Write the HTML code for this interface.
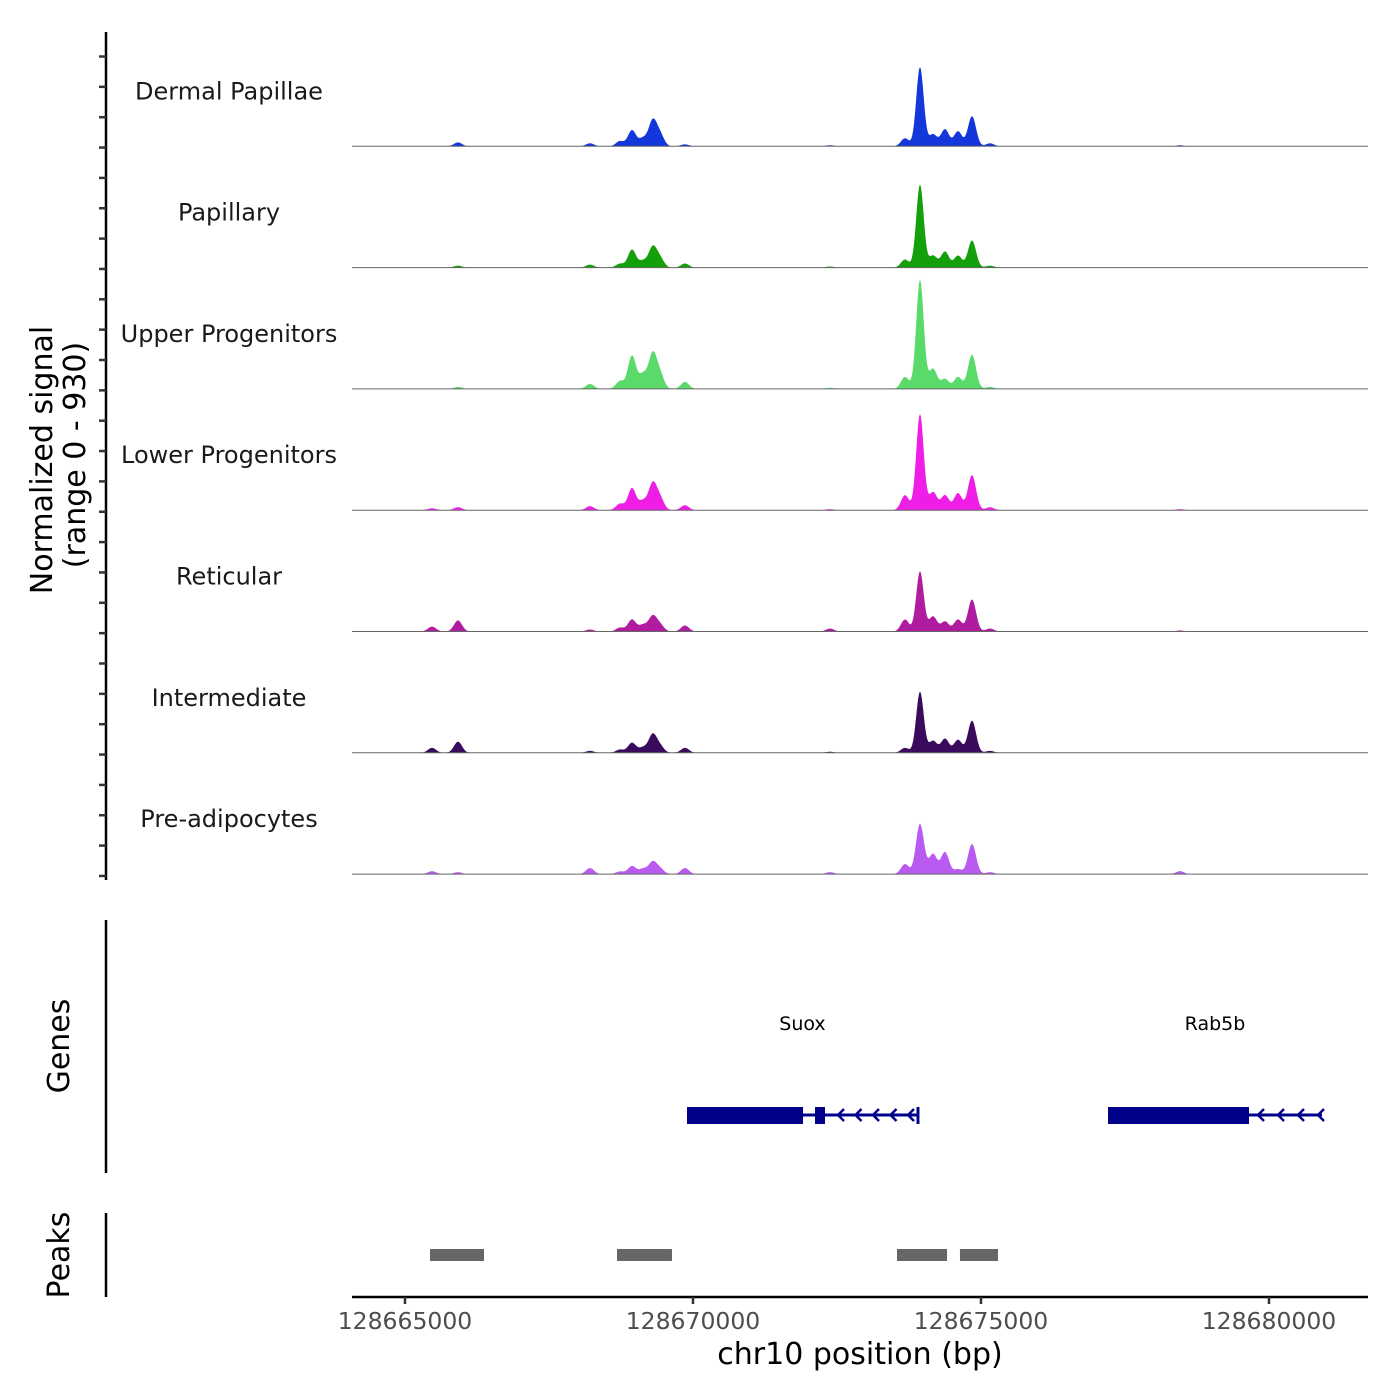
<!DOCTYPE html>
<html><head><meta charset="utf-8"><style>
html,body{margin:0;padding:0;background:#fff;}
svg{display:block;font-family:"DejaVu Sans","Liberation Sans",sans-serif;}
</style></head><body>
<svg id="chart" width="1400" height="1400" viewBox="0 0 1400 1400">
<g id="tracks"></g>
<line x1="106" y1="32" x2="106" y2="880" stroke="#000" stroke-width="2.5"/>
<g id="yticks"></g>
<text transform="translate(52,460) rotate(-90)" text-anchor="middle" font-size="30" fill="#000">Normalized signal</text>
<text transform="translate(85,455) rotate(-90)" text-anchor="middle" font-size="30" fill="#000">(range 0 - 930)</text>
<line x1="106" y1="920" x2="106" y2="1173" stroke="#000" stroke-width="2.5"/>
<text transform="translate(69,1046) rotate(-90)" text-anchor="middle" font-size="30" fill="#000">Genes</text>
<g id="genes"></g>
<line x1="106" y1="1213" x2="106" y2="1297" stroke="#000" stroke-width="2.5"/>
<text transform="translate(69,1255) rotate(-90)" text-anchor="middle" font-size="30" fill="#000">Peaks</text>
<g id="peaks"></g>
<line x1="352" y1="1297" x2="1368" y2="1297" stroke="#000" stroke-width="2.5"/>
<g id="xticks"></g>
<text x="860" y="1364" text-anchor="middle" font-size="30" fill="#000">chr10 position (bp)</text>
</svg>
<script>
const cellTypes = ["Dermal Papillae","Papillary","Upper Progenitors","Lower Progenitors","Reticular","Intermediate","Pre-adipocytes"];
const trackColors = ["#1437dc","#14a00a","#5ada6a","#ee1ee6","#b01ca0","#3a0a5c","#b95af0"];
const peakCenters = [128665469,128665920,128668212,128668733,128668941,128669132,128669300,128669427,128669861,128672378,128673681,128673941,128674167,128674375,128674601,128674844,128675156,128678455];
const sigDermal  = [0,30,23,40,123,60,192,90,15,8,62,608,92,131,115,231,23,8];
const sigPapill  = [0,15,23,30,138,50,154,70,31,8,62,638,92,123,92,208,15,0];
const sigUpper   = [0,15,38,60,254,110,262,110,54,8,92,838,154,77,92,262,15,0];
const sigLower   = [15,23,31,50,169,70,200,90,38,8,115,738,138,115,131,269,23,8];
const sigRetic   = [38,85,15,30,92,50,115,50,46,23,92,462,115,77,92,246,23,8];
const sigInterm  = [38,85,15,25,77,40,138,50,38,8,38,469,92,108,100,246,15,0];
const sigPreadip = [23,15,46,20,62,40,92,40,46,15,77,385,154,169,38,231,15,23];
const signals = [sigDermal,sigPapill,sigUpper,sigLower,sigRetic,sigInterm,sigPreadip];
const xTickValues = [128665000,128670000,128675000,128680000];
const xTickLabels = ["128665000","128670000","128675000","128680000"];
const peakStarts = [128665434,128668681,128673542,128674635];
const peakEnds   = [128666372,128669635,128674410,128675295];
const geneNames  = ["Suox","Rab5b"];
const geneStarts = [128669896,128677205];
const geneEnds   = [128673906,128680920];
const geneCdsEnds= [128671910,128679653];

const NS="http://www.w3.org/2000/svg";
function mk(tag,attrs,parent){const e=document.createElementNS(NS,tag);for(const k in attrs)e.setAttribute(k,attrs[k]);parent.appendChild(e);return e;}
const X0=352,X1=1368,BP0=128664080,BP1=128681719;
function xs(bp){return X0+(bp-BP0)/(BP1-BP0)*(X1-X0);}
const trackH=121.3, top0=25, ymax=930;
function ys(v,base){return base - v/ymax*trackH;}

const tracks=document.getElementById('tracks');
cellTypes.forEach((name,i)=>{
  const base=top0+trackH*(i+1);
  const g=mk('g',{},tracks);
  
  
  const lab=mk('text',{x:229,y:base-47,'text-anchor':'middle','font-size':24,fill:'#1a1a1a'},g);
  lab.textContent=name;
  
  
  const vals=signals[i];
  let d='M'+X0+','+base;
  for(let px=X0;px<=X1;px+=1){
    const b2=BP0+(px-X0)*(BP1-BP0)/(X1-X0);
    let v=0;
    peakCenters.forEach((c,k)=>{const w=(vals[k]>400?65:70);const z=(b2-c)/w;v+=vals[k]*Math.exp(-z*z/2);});
    d+=' L'+px+','+ys(v,base).toFixed(2);
  }
  d+=' L'+X1+','+base+' Z';
  const p=mk('path',{d:d,fill:trackColors[i],stroke:'none'},g);
  
  
  const bl=mk('line',{x1:X0,x2:X1,y1:base,y2:base,stroke:'#666','stroke-width':1},g);
  
  
});
const yt=document.getElementById('yticks');
for(let y=56.5;y<=880;y+=30.35){
  const t=mk('line',{x1:99,x2:106,y1:y,y2:y,stroke:'#333','stroke-width':2.5},yt);
  
  
}
const xt=document.getElementById('xticks');
xTickValues.forEach((v,i)=>{
  const x=xs(v);
  const t=mk('line',{x1:x,x2:x,y1:1297,y2:1304,stroke:'#333','stroke-width':2.5},xt);
  
  
  const l=mk('text',{x:x,y:1329,'text-anchor':'middle','font-size':23.5,fill:'#4d4d4d'},xt);
  l.textContent=xTickLabels[i];
  
  
});
const pk=document.getElementById('peaks');
peakStarts.forEach((s,i)=>{
  const r=mk('rect',{x:xs(s),y:1249,width:xs(peakEnds[i])-xs(s),height:12,fill:'#666'},pk);
  
  
});
const gn=document.getElementById('genes');
const GC='#00008b';
geneNames.forEach((n,i)=>{
  const g=mk('g',{},gn);
  
  
  const a=xs(geneStarts[i]),b=xs(geneEnds[i]),c=xs(geneCdsEnds[i]);
  mk('line',{x1:a,x2:b,y1:1115,y2:1115,stroke:GC,'stroke-width':3},g);
  mk('rect',{x:a,y:1107,width:c-a,height:17,fill:GC},g);
  if(i===0){mk('rect',{x:c+12,y:1107,width:10,height:17,fill:GC},g);mk('line',{x1:b,x2:b,y1:1107,y2:1124,stroke:GC,'stroke-width':3},g);}
  const start=i===0?c+35:c+9;
  for(let x=start;x<b;x+=(i===0?17.5:20)){
    mk('polyline',{points:(x+6)+',1109 '+x+',1115 '+(x+6)+',1121',fill:'none',stroke:GC,'stroke-width':2.5},g);
  }
  const t=mk('text',{x:(a+b)/2,y:1030,'text-anchor':'middle','font-size':19,fill:'#000'},g);
  t.textContent=n;
  
  
});
</script>
</body></html>
